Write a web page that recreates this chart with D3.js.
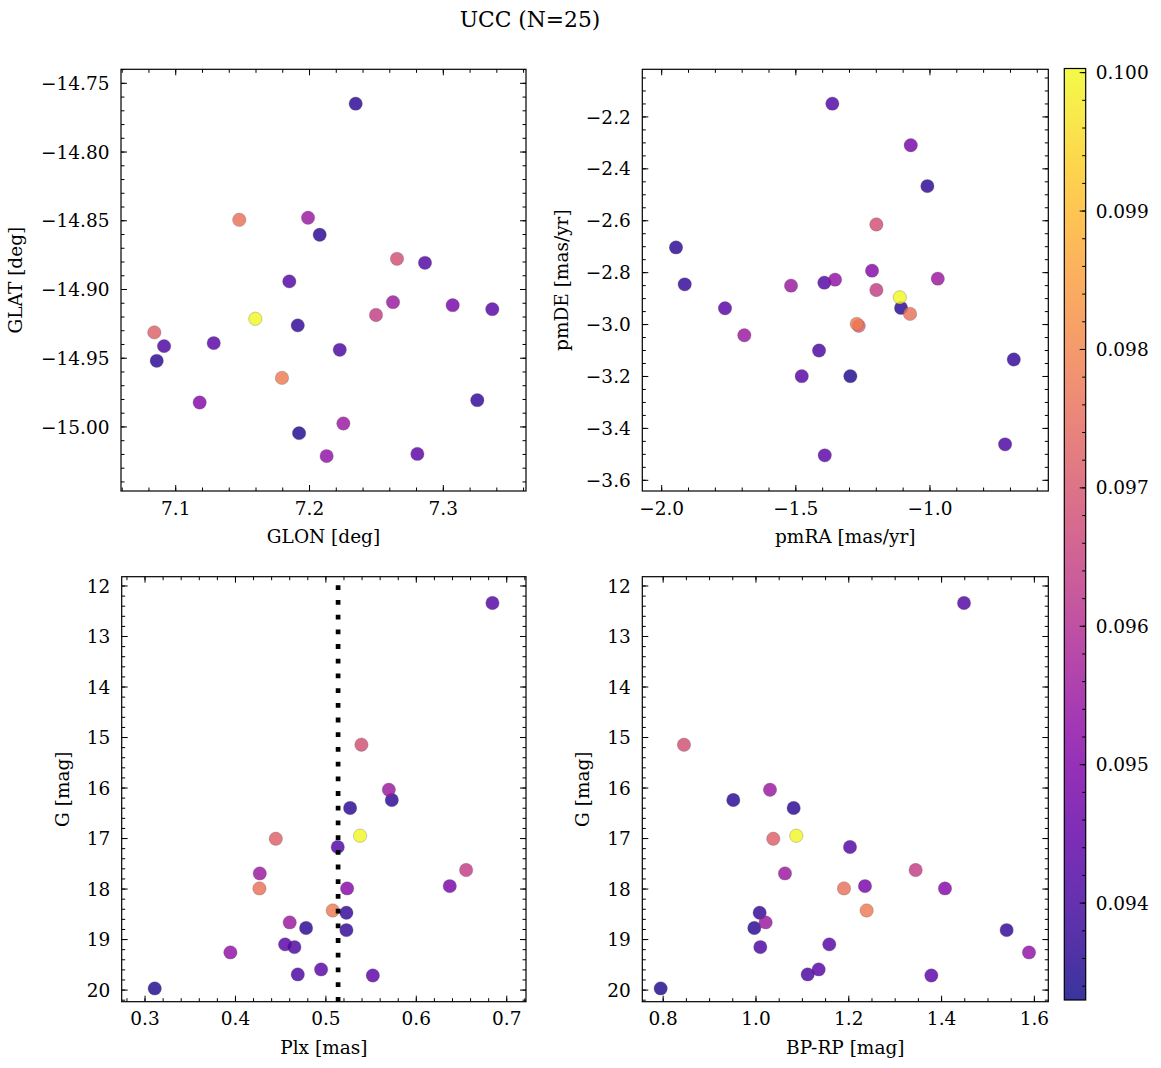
<!DOCTYPE html>
<html><head><meta charset="utf-8">
<script src="https://cdn.jsdelivr.net/npm/d3@7"></script>
<style>body{margin:0;background:#fff}svg{display:block}text{font-family:"DejaVu Serif",serif;fill:#000}</style>
</head><body><svg id="c" width="1161" height="1068"></svg>
<script>
// ---- data (one entry per star) ----
const starIds = ["a","b","c","d","e","f","g","h","i","j","k","l","m","n","o","p","q","r","s","t","u","v","w","x","y"];
const glon = [7.1849,7.2654,7.1989,7.2345,7.2076,7.1595,7.0840,7.2863,7.2497,7.2624,7.3070,7.1179,7.1475,7.1794,7.1912,7.2253,7.0858,7.3254,7.3366,7.0913,7.2128,7.1284,7.2226,7.2806,7.1922];
const glat = [-14.8941,-14.8777,-14.8478,-14.7648,-14.8602,-14.9213,-14.9312,-14.8806,-14.9186,-14.9092,-14.9114,-14.9822,-14.8493,-14.9643,-14.9261,-14.9975,-14.9519,-14.9805,-14.9143,-14.9412,-15.0212,-14.9390,-14.9439,-15.0196,-15.0045];
const pmra = [-1.3639,-1.1998,-1.5179,-1.0097,-1.9467,-1.1126,-1.2655,-1.3937,-1.1998,-1.6920,-1.0716,-1.2159,-1.0742,-1.2729,-1.9142,-0.9709,-1.1078,-0.6875,-1.7640,-1.4135,-1.3538,-1.4780,-0.7200,-1.3922,-1.2968];
const pmde = [-2.1488,-2.6142,-2.8500,-2.4665,-2.7027,-2.8950,-3.0050,-2.8385,-2.8667,-3.0412,-2.3090,-2.7923,-2.9588,-2.9973,-2.8450,-2.8231,-2.9358,-3.1346,-2.9373,-3.1000,-2.8269,-3.1988,-3.4615,-3.5038,-3.1988];
const plx  = [0.6842,0.5393,0.5696,0.5729,0.5268,0.5378,0.4446,0.5131,0.6551,0.4269,0.6370,0.5235,0.4265,0.5076,0.5227,0.4600,0.4781,0.5227,0.4549,0.4652,0.3944,0.4947,0.4689,0.5519,0.3107];
const gmag = [12.337,15.142,16.033,16.238,16.396,16.944,17.004,17.168,17.624,17.690,17.941,17.987,17.987,18.423,18.469,18.660,18.772,18.812,19.095,19.149,19.254,19.591,19.690,19.710,19.967];
const bprp = [1.4483,0.8448,1.0302,0.9511,1.0812,1.0869,1.0373,1.2026,1.3441,1.0625,1.2349,1.4073,1.1897,1.2385,1.0079,1.0208,0.9964,1.5402,1.1580,1.0093,1.5884,1.1351,1.1114,1.3779,0.7946];
const prob = [0.0942,0.0968,0.0955,0.0936,0.0936,0.1000,0.0972,0.0942,0.0964,0.0955,0.0949,0.0951,0.0976,0.0978,0.0937,0.0955,0.0936,0.0937,0.0943,0.0941,0.0953,0.0943,0.0941,0.0944,0.0935];
const plxMedian = 0.5135;
const titleText = "UCC (N=25)";
const colorDomain = [0.09330, 0.10003];
const cbarTicks = [0.094,0.095,0.096,0.097,0.098,0.099,0.100];

// ---- layout ----
const svg = d3.select("#c");
const FS = 18.5;
const MAJ = 6, MIN = 3.5;
const color = d3.scaleSequential(d3.interpolatePlasma).domain(colorDomain);
const stars = starIds.map((id,i)=>({id,glon:glon[i],glat:glat[i],pmra:pmra[i],pmde:pmde[i],plx:plx[i],g:gmag[i],bprp:bprp[i],p:prob[i]}))
  .sort((a,b)=>a.p-b.p);

const panels = [
  {xk:"glon",yk:"glat",xd:[7.0591,7.3618],yd:[-15.0466,-14.7398],box:[121,69.3,526,491],xM:0.1,xm:0.02,yM:0.05,ym:0.01,xf:".1f",yf:".2f",xl:"GLON [deg]",yl:"GLAT [deg]",ylx:22},
  {xk:"pmra",yk:"pmde",xd:[-2.0723,-0.5589],yd:[-3.6412,-2.0165],box:[642.3,69.3,1048.3,491],xM:0.5,xm:0.1,yM:0.2,ym:0.05,xf:".1f",yf:".1f",xl:"pmRA [mas/yr]",yl:"pmDE [mas/yr]",ylx:568},
  {xk:"plx",yk:"g",xd:[0.2742,0.7213],yd:[11.816,20.23],inv:true,box:[121.7,576.7,526,1001.7],xM:0.1,xm:0.02,yM:1,ym:0.2,xf:".1f",yf:"d",xl:"Plx [mas]",yl:"G [mag]",ylx:69,vline:plxMedian},
  {xk:"bprp",yk:"g",xd:[0.755,1.630],yd:[11.816,20.23],inv:true,box:[642.3,576.7,1048.3,1001.7],xM:0.2,xm:0.05,yM:1,ym:0.2,xf:".1f",yf:"d",xl:"BP-RP [mag]",yl:"G [mag]",ylx:589}
];

function tickVals(d, step){
  const lo=Math.min(d[0],d[1]), hi=Math.max(d[0],d[1]);
  const out=[];
  for(let k=Math.ceil(lo/step-1e-6); k<=Math.floor(hi/step+1e-6); k++) out.push(+(k*step).toFixed(6));
  return out;
}

panels.forEach(P=>{
  const [x0,y0,x1,y1]=P.box;
  const xs=d3.scaleLinear().domain(P.xd).range([x0,x1]);
  const ys=d3.scaleLinear().domain(P.yd).range(P.inv?[y0,y1]:[y1,y0]);
  const g=svg.append("g");
  // points
  g.selectAll("circle").data(stars).join("circle")
    .attr("cx",d=>xs(d[P.xk])).attr("cy",d=>ys(d[P.yk])).attr("r",6.7)
    .attr("fill",d=>color(d.p)).attr("fill-opacity",0.82)
    .attr("stroke","#555").attr("stroke-width",0.5).attr("stroke-opacity",0.55);
  if(P.vline!==undefined){
    g.append("line").attr("x1",xs(P.vline)).attr("x2",xs(P.vline)).attr("y1",y1).attr("y2",y0)
      .attr("stroke","#000").attr("stroke-width",4.7).attr("stroke-dasharray","4.8 9.9");
  }
  // ticks
  const tk=g.append("g").attr("stroke","#000").attr("stroke-width",1);
  const xMaj=tickVals(P.xd,P.xM), xMin=tickVals(P.xd,P.xm), yMaj=tickVals(P.yd,P.yM), yMin=tickVals(P.yd,P.ym);
  xMin.forEach(v=>{const X=xs(v);tk.append("line").attr("x1",X).attr("x2",X).attr("y1",y1).attr("y2",y1-MIN);tk.append("line").attr("x1",X).attr("x2",X).attr("y1",y0).attr("y2",y0+MIN);});
  xMaj.forEach(v=>{const X=xs(v);tk.append("line").attr("x1",X).attr("x2",X).attr("y1",y1).attr("y2",y1-MAJ);tk.append("line").attr("x1",X).attr("x2",X).attr("y1",y0).attr("y2",y0+MAJ);});
  yMin.forEach(v=>{const Y=ys(v);tk.append("line").attr("y1",Y).attr("y2",Y).attr("x1",x0).attr("x2",x0+MIN);tk.append("line").attr("y1",Y).attr("y2",Y).attr("x1",x1).attr("x2",x1-MIN);});
  yMaj.forEach(v=>{const Y=ys(v);tk.append("line").attr("y1",Y).attr("y2",Y).attr("x1",x0).attr("x2",x0+MAJ);tk.append("line").attr("y1",Y).attr("y2",Y).attr("x1",x1).attr("x2",x1-MAJ);});
  // frame
  g.append("rect").attr("x",x0).attr("y",y0).attr("width",x1-x0).attr("height",y1-y0)
    .attr("fill","none").attr("stroke","#000").attr("stroke-width",1.2);
  // tick labels
  const xfmt=d3.format(P.xf), yfmt=d3.format(P.yf);
  xMaj.forEach(v=>g.append("text").attr("x",xs(v)).attr("y",y1+23.5).attr("text-anchor","middle").attr("font-size",FS).text(xfmt(v)));
  yMaj.forEach(v=>g.append("text").attr("x",x0-11.5).attr("y",ys(v)+6.6).attr("text-anchor","end").attr("font-size",FS).text(yfmt(v)));
  // axis labels
  g.append("text").attr("x",(x0+x1)/2).attr("y",y1+52).attr("text-anchor","middle").attr("font-size",FS).text(P.xl);
  g.append("text").attr("transform",`translate(${P.ylx},${(y0+y1)/2}) rotate(-90)`).attr("text-anchor","middle").attr("font-size",FS).text(P.yl);
});

// colorbar
const cb={x0:1064.3,x1:1085.7,y0:68.5,y1:1000};
const cs=d3.scaleLinear().domain(colorDomain).range([cb.y1,cb.y0]);
const defs=svg.append("defs");
const grad=defs.append("linearGradient").attr("id","cbg").attr("x1",0).attr("y1",1).attr("x2",0).attr("y2",0);
d3.range(0,1.0001,0.05).forEach(t=>grad.append("stop").attr("offset",t).attr("stop-color",d3.interpolatePlasma(t)));
svg.append("rect").attr("x",cb.x0).attr("y",cb.y0).attr("width",cb.x1-cb.x0).attr("height",cb.y1-cb.y0).attr("fill","url(#cbg)").attr("fill-opacity",0.82);
const ctk=svg.append("g").attr("stroke","#000").attr("stroke-width",1);
tickVals(colorDomain,0.0002).forEach(v=>{const Y=cs(v);ctk.append("line").attr("x1",cb.x1).attr("x2",cb.x1-MIN).attr("y1",Y).attr("y2",Y);});
cbarTicks.forEach(v=>{const Y=cs(v);ctk.append("line").attr("x1",cb.x1).attr("x2",cb.x1-MAJ).attr("y1",Y).attr("y2",Y);
  svg.append("text").attr("x",cb.x1+10).attr("y",Y+6.6).attr("font-size",FS).text(d3.format(".3f")(v));});
svg.append("rect").attr("x",cb.x0).attr("y",cb.y0).attr("width",cb.x1-cb.x0).attr("height",cb.y1-cb.y0).attr("fill","none").attr("stroke","#000").attr("stroke-width",1.2);

// title
svg.append("text").attr("x",530).attr("y",26.5).attr("text-anchor","middle").attr("font-size",21.8).text(titleText);
</script></body></html>
